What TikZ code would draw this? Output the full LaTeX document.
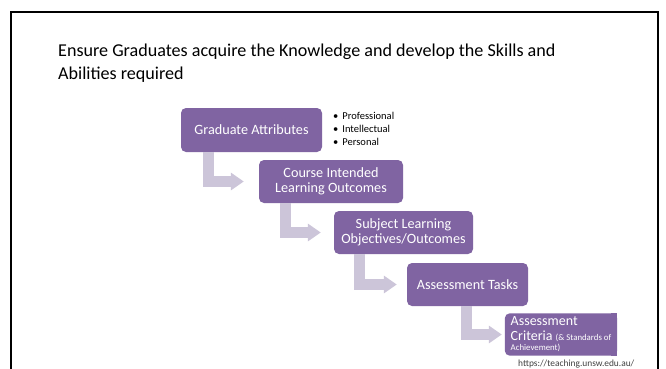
\documentclass[tikz,border=0pt]{standalone}
\usepackage{fontspec}
\setmainfont{Carlito}
\usetikzlibrary{arrows.meta,backgrounds}
\definecolor{boxpurple}{HTML}{8064A2}
\definecolor{arrowgray}{HTML}{CCC5D9}
\definecolor{urlgray}{HTML}{404040}
\begin{document}
\begin{tikzpicture}[x=1pt,y=-1pt,
  box/.style={rectangle, rounded corners=5pt, fill=boxpurple, text=white, inner sep=0pt,
    align=center, font=\fontsize{14.2}{14.5}\selectfont},
  bentarrow/.style={draw=arrowgray, line width=11pt, line cap=butt, line join=miter,
    -{Triangle[length=13pt,width=17pt]}},
  smalltext/.style={font=\fontsize{10.5}{13.3}\selectfont, align=left, inner sep=0pt}
]
\useasboundingbox (0,0) rectangle (666,369);
\begin{scope}[on background layer]
  \fill[white] (0,0) rectangle (666,369);
\end{scope}
% frame
\draw[line width=2pt, black] (11,369) -- (11,12) -- (658,12) -- (658,369);
% title
\node[anchor=north west, align=left, inner sep=0pt, font=\fontsize{18.1}{23}\selectfont] (title) at (58,43.5)
  {Ensure Graduates acquire the Knowledge and develop the Skills and\\Abilities required};
% boxes
\node[box, minimum width=141pt, minimum height=44pt] (g1) at (251.5,130) {Graduate Attributes};
\node[box, minimum width=144pt, minimum height=43pt] (g2) at (331,181.5) {Course Intended\\Learning Outcomes};
\node[box, minimum width=139pt, minimum height=43pt] (g3) at (403.5,232.5) {Subject Learning\\Objectives/Outcomes};
\node[box, minimum width=121pt, minimum height=43pt] (g4) at (467.5,284.5) {Assessment Tasks};
\node[box, fill=none, minimum width=112pt, minimum height=42pt, align=left,
      font=\fontsize{14}{14.3}\selectfont] (g5) at (561,334.5)
  {Assessment\\Criteria {\fontsize{8.8}{10}\selectfont(\& Standards of}\\[-3.5pt]{\fontsize{8.8}{10}\selectfont Achievement)}};
\begin{scope}[on background layer]
  \fill[boxpurple, rounded corners=5pt] (g5.north west) rectangle (g5.south east);
  \fill[boxpurple] ([xshift=-6pt]g5.north east) rectangle (g5.south east);
\end{scope}
% bullets
\node[smalltext, anchor=west] (bul) at (333,129)
  {\textbullet\hspace{4pt}Professional\\\textbullet\hspace{4pt}Intellectual\\\textbullet\hspace{4pt}Personal};
% arrows
\coordinate (c1) at (208.5,0);
\coordinate (c2) at (285.5,0);
\coordinate (c3) at (359.5,0);
\coordinate (c4) at (466.5,0);
\draw[bentarrow] (g1.south -| c1) |- ([xshift=-15pt]g2.west);
\draw[bentarrow] (g2.south -| c2) |- ([xshift=-13pt]g3.west);
\draw[bentarrow] (g3.south -| c3) |- ([xshift=-10pt]g4.west);
\draw[bentarrow] (g4.south -| c4) |- ([xshift=-3pt]g5.west);
% url
\node[anchor=base west, inner sep=0pt, text=urlgray, font=\fontsize{9.4}{10}\selectfont] (url) at (518,366)
  {https://teaching.unsw.edu.au/};
\end{tikzpicture}
\end{document}
